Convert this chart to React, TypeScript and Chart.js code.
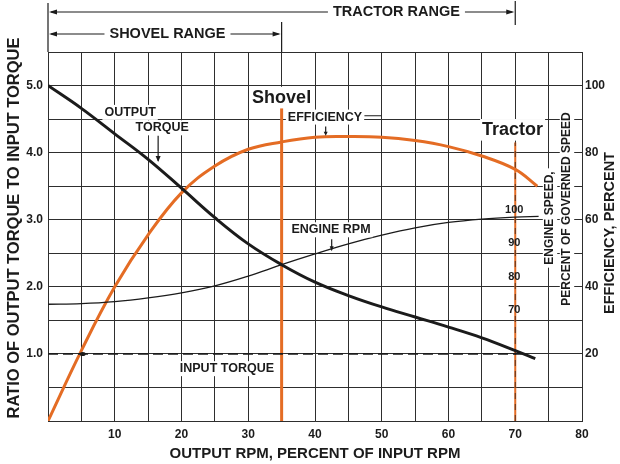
import React, { useEffect, useRef } from "react";
import { Chart, registerables } from "chart.js";

Chart.register(...registerables);

// Output torque ratio vs output speed (% of input rpm)
const torqueRpm = [0, 5, 10, 15, 20, 25, 30, 35, 40, 45, 50, 55, 60, 65, 70, 73];
const outputTorque = [5.0, 4.66, 4.28, 3.9, 3.47, 3.03, 2.64, 2.33, 2.07, 1.87, 1.7, 1.55, 1.4, 1.24, 1.05, 0.93];

// Converter efficiency, percent
const efficiencyRpm = [0, 5, 10, 15, 20, 25, 30, 35, 40, 45, 50, 55, 60, 65, 70, 73.3];
const efficiencyPct = [0, 21, 40, 55.5, 68, 76, 81, 83.2, 84.6, 84.8, 84.6, 83.6, 81.8, 79, 75, 70];

// Engine speed, percent of governed speed
const engineRpm = [0, 5, 10, 15, 20, 25, 30, 35, 40, 45, 50, 55, 60, 65, 70, 73.5];
const engineSpeedPct = [74.8, 75, 75.6, 76.7, 78.2, 80.3, 83.2, 86.6, 89.8, 92.8, 95.4, 97.6, 99.2, 100.2, 100.8, 101];

// Input torque reference (ratio 1.0)
const inputTorqueRpm = [0, 71];
const inputTorqueRatio = [1.0, 1.0];

// Operating points
const shovelRpm = 35;
const shovelLineTop = 4.68;
const tractorRpm = 70;
const tractorLineTop = 4.15;

// Tick labels
const rpmTickLabels = [10, 20, 30, 40, 50, 60, 70, 80];
const ratioTickLabels = [1, 2, 3, 4, 5];
const efficiencyTickLabels = [20, 40, 60, 80, 100];
const engineSpeedTickLabels = [70, 80, 90, 100];

const INK = "#1b1b1b";
const ORANGE = "#e46c24";
const GRID = "#2e2e2e";
const FONT = '"Liberation Sans", Arial, sans-serif';
const NARROW = '"Liberation Sans Narrow", "Liberation Sans", Arial, sans-serif';

const pts = (xs: number[], ys: number[]) => xs.map((x, i) => ({ x, y: ys[i] }));

function textBox(
  ctx: CanvasRenderingContext2D,
  text: string,
  x: number,
  y: number,
  size: number,
  bg = true,
  pad = 2,
  family = FONT
) {
  ctx.font = `bold ${size}px ${family}`;
  const w = ctx.measureText(text).width;
  if (bg) {
    ctx.fillStyle = "#ffffff";
    ctx.fillRect(x - w / 2 - pad, y - size * 0.6, w + pad * 2, size * 1.2);
  }
  ctx.fillStyle = INK;
  ctx.textAlign = "center";
  ctx.textBaseline = "middle";
  ctx.fillText(text, x, y);
}

function head(ctx: CanvasRenderingContext2D, x: number, y: number, dx: number, dy: number, len = 7, half = 3) {
  const bx = x - dx * len;
  const by = y - dy * len;
  const px = -dy * half;
  const py = dx * half;
  ctx.fillStyle = INK;
  ctx.beginPath();
  ctx.moveTo(x, y);
  ctx.lineTo(bx + px, by + py);
  ctx.lineTo(bx - px, by - py);
  ctx.closePath();
  ctx.fill();
}

function vText(ctx: CanvasRenderingContext2D, text: string, x: number, y: number, size: number, bg = false, pad = 2) {
  ctx.save();
  ctx.translate(x, y);
  ctx.rotate(-Math.PI / 2);
  textBox(ctx, text, 0, 0, size, bg, pad);
  ctx.restore();
}

const annotations = {
  id: "annotations",
  afterDraw(chart: any) {
    const ctx: CanvasRenderingContext2D = chart.ctx;
    const xs = chart.scales.x;
    const ys = chart.scales.y;
    const es = chart.scales.yEng;
    const area = chart.chartArea;
    const X = (v: number) => xs.getPixelForValue(v);
    const Y = (v: number) => ys.getPixelForValue(v);

    ctx.save();
    ctx.strokeStyle = INK;
    ctx.lineWidth = 1.2;

    // range brackets above the grid
    const x0 = X(0);
    const xs35 = X(shovelRpm);
    const xt70 = X(tractorRpm);
    ctx.beginPath();
    ctx.moveTo(x0, 3);
    ctx.lineTo(x0, area.top);
    ctx.moveTo(xs35, 22);
    ctx.lineTo(xs35, area.top);
    ctx.moveTo(xt70, 1);
    ctx.lineTo(xt70, 25);
    ctx.moveTo(x0 + 3, 12);
    ctx.lineTo(xt70 - 3, 12);
    ctx.moveTo(x0 + 3, 34);
    ctx.lineTo(xs35 - 3, 34);
    ctx.stroke();
    head(ctx, x0 + 1, 12, -1, 0, 8, 2.5);
    head(ctx, xt70 - 1, 12, 1, 0, 8, 2.5);
    head(ctx, x0 + 1, 34, -1, 0, 8, 2.5);
    head(ctx, xs35 - 1, 34, 1, 0, 8, 2.5);
    textBox(ctx, "TRACTOR RANGE", X(52.2), 12, 14.5, true, 5);
    textBox(ctx, "SHOVEL RANGE", X(17.9), 34, 14.5, true, 5);

    // operating point titles
    textBox(ctx, "Shovel", X(shovelRpm), Y(4.82), 18, true, 2);
    textBox(ctx, "Tractor", X(69.6), Y(4.34), 18, true, 2);

    // curve labels
    textBox(ctx, "OUTPUT", X(12.3), Y(4.6), 12.5);
    textBox(ctx, "TORQUE", X(17.1), Y(4.37), 12.5);
    ctx.strokeStyle = INK;
    ctx.lineWidth = 1.2;
    ctx.beginPath();
    ctx.moveTo(X(16.5), Y(4.25));
    ctx.lineTo(X(16.5), Y(3.88));
    ctx.stroke();
    head(ctx, X(16.5), Y(3.86), 0, 1, 6, 2.5);

    textBox(ctx, "EFFICIENCY", X(41.5), Y(4.53), 12.5);
    ctx.beginPath();
    ctx.moveTo(X(47.4), Y(4.55));
    ctx.lineTo(X(49.9), Y(4.55));
    ctx.moveTo(X(41.6), Y(4.39));
    ctx.lineTo(X(41.6), Y(4.28));
    ctx.stroke();
    head(ctx, X(41.6), Y(4.25), 0, 1, 4, 2);

    textBox(ctx, "ENGINE RPM", X(42.4), Y(2.85), 12.5);
    ctx.beginPath();
    ctx.moveTo(X(42.5), Y(2.71));
    ctx.lineTo(X(42.5), Y(2.58));
    ctx.stroke();
    head(ctx, X(42.5), Y(2.53), 0, 1, 5, 2);

    textBox(ctx, "INPUT TORQUE", X(26.8), Y(0.78), 12.5);
    ctx.fillStyle = INK;
    ctx.beginPath();
    ctx.ellipse(X(5.2), Y(1.0), 3, 2, 0, 0, Math.PI * 2);
    ctx.fill();

    // engine speed scale, written along the tractor line
    ctx.font = `bold 11px ${NARROW}`;
    ctx.fillStyle = INK;
    ctx.textAlign = "center";
    ctx.textBaseline = "middle";
    engineSpeedTickLabels.forEach((v) => {
      ctx.fillText(String(v), X(tractorRpm) - 1, es.getPixelForValue(v) - 10);
    });

    // axis titles
    vText(ctx, "RATIO OF OUTPUT TORQUE TO INPUT TORQUE", 14, 228, 16.5);
    textBox(ctx, "OUTPUT RPM, PERCENT OF INPUT RPM", (area.left + area.right) / 2, 454, 15, false);
    vText(ctx, "EFFICIENCY, PERCENT", 610, 233, 14.5);
    vText(ctx, "ENGINE SPEED,", 550, 218, 12, true, 3);
    vText(ctx, "PERCENT OF GOVERNED SPEED", 567, 209, 12, true, 3);

    ctx.restore();
  },
};

export default function App() {
  const ref = useRef<HTMLCanvasElement>(null);

  useEffect(() => {
    if (!ref.current) return;
    const tickFont = { family: NARROW, size: 12, weight: "bold" as const };

    const chart = new Chart(ref.current, {
      type: "line",
      data: {
        datasets: [
          {
            data: pts([shovelRpm, shovelRpm], [0, shovelLineTop]),
            borderColor: ORANGE,
            borderWidth: 3,
            tension: 0,
            order: 7,
          },
          {
            data: pts([tractorRpm, tractorRpm], [0, tractorLineTop]),
            borderColor: ORANGE,
            borderWidth: 2,
            tension: 0,
            order: 6,
          },
          {
            data: pts([tractorRpm, tractorRpm], [0, tractorLineTop]),
            borderColor: "rgba(40,30,25,0.75)",
            borderWidth: 1,
            borderDash: [6, 5],
            tension: 0,
            order: 5,
          },
          {
            data: pts(efficiencyRpm, efficiencyPct),
            yAxisID: "yEff",
            borderColor: ORANGE,
            borderWidth: 3,
            tension: 0.4,
            order: 4,
          },
          {
            data: pts(inputTorqueRpm, inputTorqueRatio),
            borderColor: INK,
            borderWidth: 1.8,
            borderDash: [10, 5],
            tension: 0,
            order: 3,
          },
          {
            data: pts(engineRpm, engineSpeedPct),
            yAxisID: "yEng",
            borderColor: INK,
            borderWidth: 1.3,
            tension: 0.4,
            order: 2,
          },
          {
            data: pts(torqueRpm, outputTorque),
            borderColor: INK,
            borderWidth: 3,
            tension: 0.4,
            order: 1,
          },
        ],
      },
      options: {
        responsive: false,
        animation: false,
        events: [],
        layout: { padding: { top: 52, left: 0, right: 0, bottom: 0 } },
        elements: { point: { radius: 0 }, line: { borderCapStyle: "butt" } },
        plugins: { legend: { display: false }, tooltip: { enabled: false } },
        scales: {
          x: {
            type: "linear",
            min: 0,
            max: 80,
            grid: { color: GRID, lineWidth: 1, drawTicks: false },
            border: { color: GRID, width: 1 },
            ticks: {
              stepSize: 5,
              autoSkip: false,
              maxRotation: 0,
              padding: 6,
              color: INK,
              font: tickFont,
              callback: (v: any) => (rpmTickLabels.includes(Number(v)) ? String(v) : ""),
            },
            afterFit: (s: any) => {
              s.height = 43;
            },
          },
          y: {
            type: "linear",
            position: "left",
            min: 0,
            max: 5.5,
            grid: { color: GRID, lineWidth: 1, drawTicks: false },
            border: { color: GRID, width: 1 },
            ticks: {
              stepSize: 0.5,
              autoSkip: false,
              padding: 5,
              color: INK,
              font: tickFont,
              callback: (v: any) => (ratioTickLabels.includes(Number(v)) ? Number(v).toFixed(1) : ""),
            },
            afterFit: (s: any) => {
              s.width = 48;
            },
          },
          yEff: {
            type: "linear",
            position: "right",
            min: 0,
            max: 110,
            grid: { display: false, drawTicks: false },
            border: { display: false },
            ticks: {
              stepSize: 10,
              autoSkip: false,
              padding: 3,
              color: INK,
              font: { family: NARROW, size: 12, weight: "bold" },
              callback: (v: any) => (efficiencyTickLabels.includes(Number(v)) ? String(v) : ""),
            },
            afterFit: (s: any) => {
              s.width = 38;
            },
          },
          yEng: {
            type: "linear",
            display: false,
            min: 40,
            max: 150,
          },
        },
      },
      plugins: [annotations],
    } as any);

    return () => chart.destroy();
  }, []);

  return (
    <div style={{ position: "absolute", left: 0, top: 0, width: 620, height: 464, background: "#ffffff" }}>
      <canvas ref={ref} width={620} height={464} style={{ display: "block" }} />
    </div>
  );
}
